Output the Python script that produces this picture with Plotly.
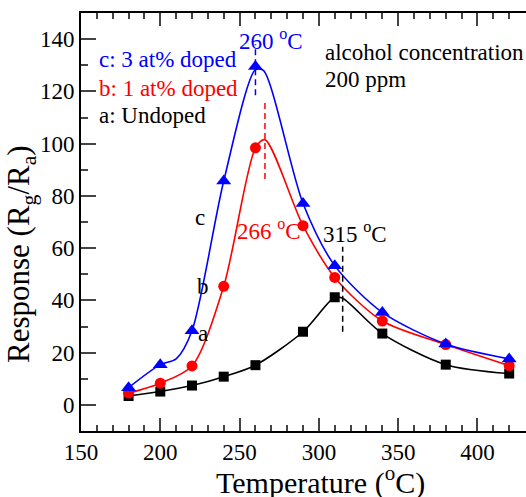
import plotly.graph_objects as go

# Measured response of the three films versus operating temperature
temperature = [180, 200, 220, 240, 260, 290, 310, 340, 380, 420]
resp_undoped = [3.4, 5.1, 7.4, 10.8, 15.2, 28.0, 41.2, 27.3, 15.4, 12.0]
resp_1at = [4.5, 8.3, 14.9, 45.4, 98.4, 68.6, 48.8, 32.1, 23.1, 15.0]
resp_3at = [6.6, 15.4, 28.4, 85.7, 129.5, 77.1, 53.3, 35.4, 23.3, 17.6]

# Fitted guide curves drawn through the measurements
fit_a_t = [180, 200, 220, 240, 260, 290, 310, 315, 340, 380, 420]
fit_a_y = [3.4, 5.1, 7.4, 10.8, 15.2, 28.0, 41.2, 40.8, 27.3, 15.4, 12.0]
fit_b_t = [180, 200, 220, 240, 260, 266, 290, 310, 340, 380, 420]
fit_b_y = [4.5, 8.3, 14.9, 45.4, 98.4, 101.5, 68.6, 48.8, 32.1, 23.1, 15.0]
fit_c_t = [180, 200, 210, 220, 240, 260, 265, 290, 310, 340, 380, 420]
fit_c_y = [6.6, 15.4, 17.6, 28.4, 85.7, 128.3, 128.0, 77.1, 53.3, 35.4, 23.3, 17.6]

# Peak temperatures marked with dashed guides
peak_temps = [260, 266, 315]
peak_spans = [(118.5, 138.0), (86.5, 117.0), (28.0, 60.5)]

BLACK, RED, BLUE = "#000000", "#ff0000", "#0000ff"
FONT = '"Liberation Serif", serif'

# plot area in pixels
L, T, W, H = 81, 13, 526, 497
B = 66
pw, ph = W - L, H - T - B


def px_to_paper(px, py):
    return (px - L) / pw, (H - B - py) / ph


fig = go.Figure()

series = [
    (fit_a_t, fit_a_y, resp_undoped, BLACK, "square", 10),
    (fit_b_t, fit_b_y, resp_1at, RED, "circle", 11),
    (fit_c_t, fit_c_y, resp_3at, BLUE, "triangle-up", 13),
]
for ft, fy, ry, col, sym, size in series:
    fig.add_trace(go.Scatter(x=ft, y=fy, mode="lines",
                             line=dict(color=col, width=1.6, shape="spline", smoothing=0.8),
                             showlegend=False, hoverinfo="skip"))
    fig.add_trace(go.Scatter(x=temperature, y=ry, mode="markers",
                             marker=dict(color=col, symbol=sym, size=size, line=dict(width=0)),
                             showlegend=False))

peak_colors = [BLUE, RED, BLACK]
for t, (y0, y1), col in zip(peak_temps, peak_spans, peak_colors):
    fig.add_shape(type="line", x0=t, x1=t, y0=y0, y1=y1, xref="x", yref="y",
                  line=dict(color=col, width=1.5, dash="6px,4px"))

TS = 23
annots = [
    (270.0, 139.8, f"{peak_temps[0]} <sup>o</sup>C", BLUE, "center"),
    (268.5, 67.0, f"{peak_temps[1]} <sup>o</sup>C", RED, "center"),
    (323.0, 65.8, f"{peak_temps[2]} <sup>o</sup>C", BLACK, "center"),
    (160.2, 132.3, "c: 3 at% doped", BLUE, "left"),
    (160.2, 121.2, "b: 1 at% doped", RED, "left"),
    (160.2, 110.9, "a: Undoped", BLACK, "left"),
    (302.5, 135.0, "alcohol concentration", BLACK, "left"),
    (302.5, 124.7, "200 ppm", BLACK, "left"),
    (225.0, 71.9, "c", BLACK, "center"),
    (227.0, 45.5, "b", BLACK, "center"),
    (227.0, 27.5, "a", BLACK, "center"),
]
for x, y, txt, col, anchor in annots:
    fig.add_annotation(x=x, y=y, xref="x", yref="y", text=txt, showarrow=False,
                       xanchor=anchor, yanchor="middle",
                       font=dict(family=FONT, size=TS, color=col))

# Axis titles placed as free text
yx, yy = px_to_paper(21, 254)
fig.add_annotation(x=yx, y=yy, xref="paper", yref="paper",
                   text="Response (R<sub>g</sub>/R<sub>a</sub>)",
                   showarrow=False, textangle=-90, xanchor="center", yanchor="middle",
                   font=dict(family=FONT, size=31, color=BLACK))
xx, xy = px_to_paper(320, 480)
fig.add_annotation(x=xx, y=xy, xref="paper", yref="paper",
                   text="Temperature (<sup>o</sup>C)",
                   showarrow=False, xanchor="center", yanchor="middle",
                   font=dict(family=FONT, size=30, color=BLACK))

fig.update_layout(
    width=W, height=H,
    margin=dict(l=L, r=0, t=T, b=B),
    paper_bgcolor="white", plot_bgcolor="white",
    font=dict(family=FONT, size=TS, color=BLACK),
    showlegend=False,
    xaxis=dict(range=[150, 430.6], dtick=50, tick0=150, ticks="inside", ticklen=13, tickwidth=1.5,
               minor=dict(dtick=10, ticks="inside", ticklen=6, tickwidth=1.5),
               showline=True, linecolor=BLACK, linewidth=1.6, mirror="allticks",
               showgrid=False, zeroline=False,
               tickfont=dict(family=FONT, size=TS)),
    yaxis=dict(range=[-10, 150], dtick=20, tick0=0, ticks="inside", ticklen=15, tickwidth=1.5,
               minor=dict(dtick=10, ticks="inside", ticklen=7, tickwidth=1.5),
               showline=True, linecolor=BLACK, linewidth=1.6, mirror=False,
               showgrid=False, zeroline=False, tickfont=dict(family=FONT, size=TS)),
)

fig.write_html("out.html")
